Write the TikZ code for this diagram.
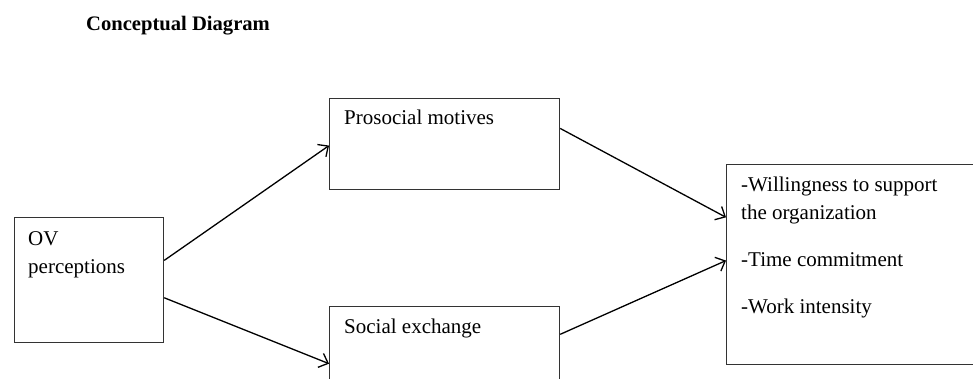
\documentclass[tikz,border=0pt]{standalone}
\usepackage{fontspec}
\setmainfont{Liberation Serif}
\usetikzlibrary{arrows.meta,calc}
\begin{document}
\begin{tikzpicture}[x=1pt,y=-1pt,
  box/.style={draw=black!80,line width=1.2pt,rectangle,inner sep=0pt,anchor=north west},
  txt/.style={anchor=base west,inner sep=0pt,font=\fontsize{21}{28}\selectfont},
  conn/.style={line width=1.3pt,-{Straight Barb[length=8pt,width=15pt,line width=1.3pt]}}]
\useasboundingbox (0,0) rectangle (973,379);
\node[anchor=base west,inner sep=0pt,font=\fontsize{20.6}{24}\selectfont\bfseries] (title) at (86,31) {Conceptual Diagram};
% boxes
\node[box,minimum width=149pt,minimum height=125pt] (ov) at (14,217) {};
\node[box,minimum width=230pt,minimum height=91pt] (pro) at (329,98) {};
\node[box,minimum width=230pt,minimum height=100pt] (soc) at (329,306) {};
\node[box,minimum width=300pt,minimum height=200pt] (out) at (726,164) {};
% texts
\node[txt] (ov1) at (28,245) {OV};
\node[txt] (ov2) at (28,273) {perceptions};
\node[txt] (pro1) at (344,125) {Prosocial motives};
\node[txt] (soc1) at (344,333) {Social exchange};
\node[txt] (out1) at (741,192) {-Willingness to support};
\node[txt] (out2) at (741,219) {the organization};
\node[txt] (out3) at (741,266) {-Time commitment};
\node[txt] (out4) at (741,313) {-Work intensity};
% connectors
\draw[conn] ($(ov.north east)!0.344!(ov.south east)$) -- ($(pro.north west)!0.516!(pro.south west)$);
\draw[conn] ($(ov.north east)!0.64!(ov.south east)$) -- ($(soc.north west)!0.57!(soc.south west)$);
\draw[conn] ($(pro.north east)!0.33!(pro.south east)$) -- ($(out.north west)!0.265!(out.south west)$);
\draw[conn] ($(soc.north east)!0.28!(soc.south east)$) -- ($(out.north west)!0.48!(out.south west)$);
\end{tikzpicture}
\end{document}
